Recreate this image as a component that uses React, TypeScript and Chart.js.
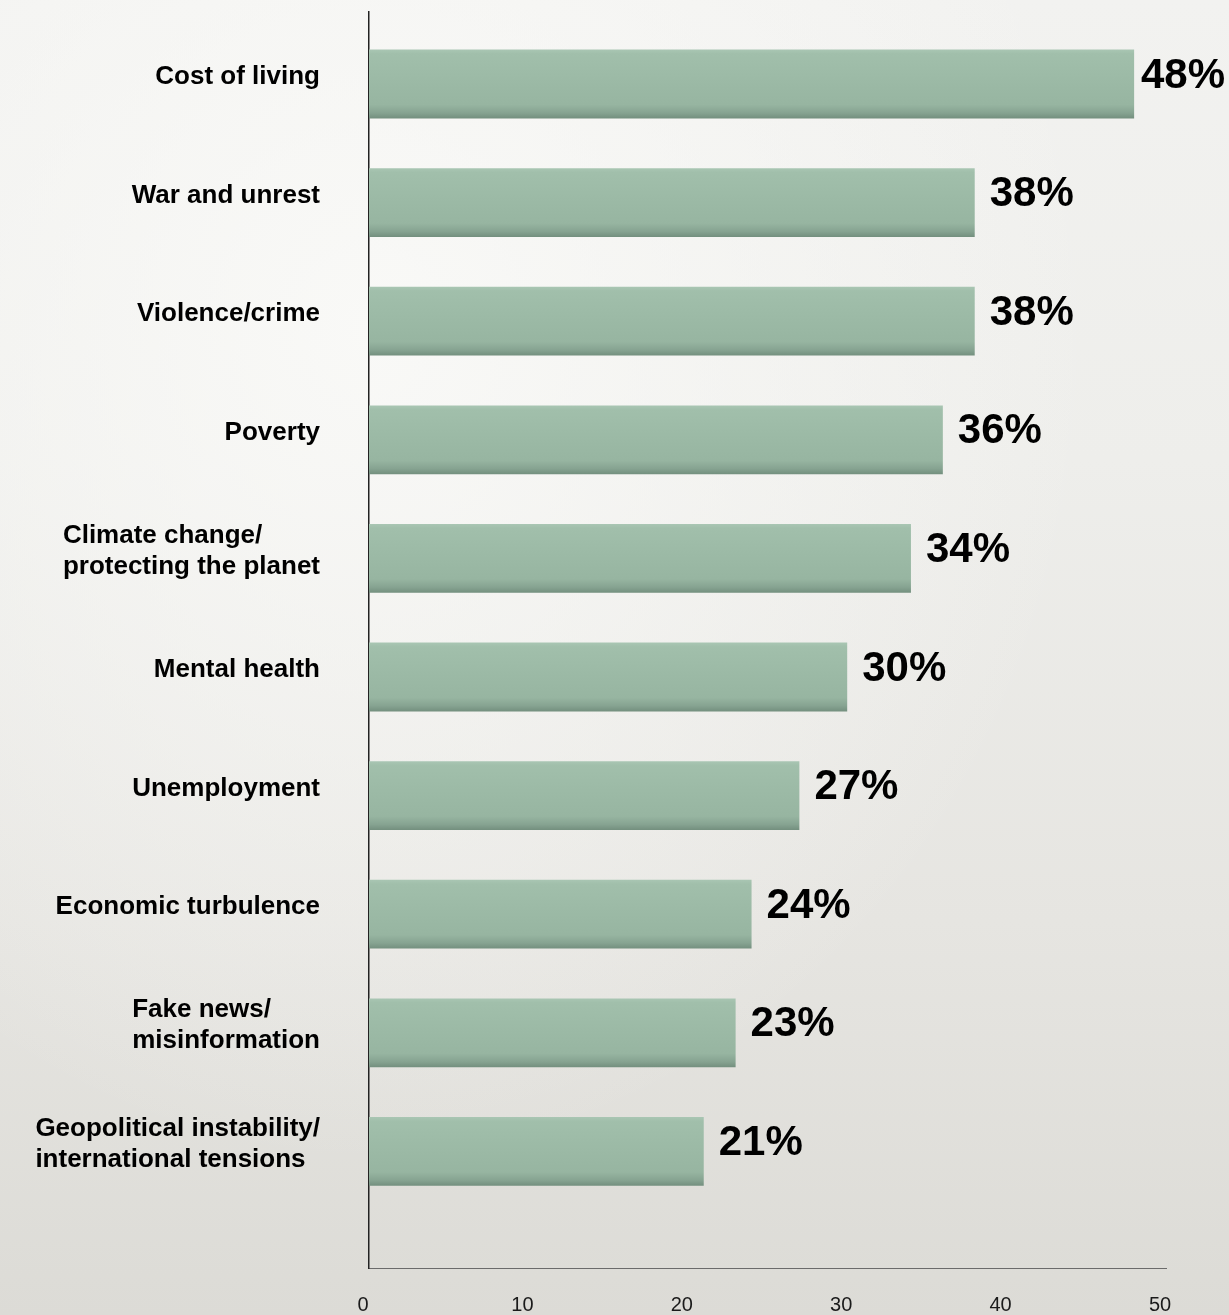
import React, { useEffect, useRef } from "react";
import { Chart, registerables } from "chart.js";

Chart.register(...registerables);

const FONT = '"Liberation Sans", Arial, Helvetica, sans-serif';

const CATEGORIES: string[][] = [
  ["Cost of living"],
  ["War and unrest"],
  ["Violence/crime"],
  ["Poverty"],
  ["Climate change/", "protecting the planet"],
  ["Mental health"],
  ["Unemployment"],
  ["Economic turbulence"],
  ["Fake news/", "misinformation"],
  ["Geopolitical instability/", "international tensions"],
];
const VALUES = [48, 38, 38, 36, 34, 30, 27, 24, 23, 21];
const VALUE_LABELS = ["48%", "38%", "38%", "36%", "34%", "30%", "27%", "24%", "23%", "21%"];
const X_MIN = 0;
const X_MAX = 50;
const X_STEP = 10;

const BAR_PCT = 0.58;

const labelPlugin = {
  id: "customLabels",
  afterDatasetsDraw(chart: any) {
    const { ctx, scales } = chart;
    const x = scales.x;
    const y = scales.y;
    ctx.save();
    ctx.fillStyle = "#000";
    ctx.textAlign = "left";
    ctx.textBaseline = "middle";
    ctx.font = `bold 26px ${FONT}`;
    CATEGORIES.forEach((lines, i) => {
      const yc = y.getPixelForValue(i) - 7;
      const w = Math.max(...lines.map((l) => ctx.measureText(l).width));
      const left = x.left - 49 - w;
      const lh = 31;
      lines.forEach((l, j) => {
        ctx.fillText(l, left, yc + (j - (lines.length - 1) / 2) * lh);
      });
    });
    ctx.font = `bold 42px ${FONT}`;
    VALUES.forEach((v, i) => {
      const t = VALUE_LABELS[i];
      const w = ctx.measureText(t).width;
      let xx = x.getPixelForValue(v) + 15;
      xx = Math.min(xx, chart.width - w - 4);
      ctx.fillText(t, xx, y.getPixelForValue(i) - 8);
    });
    ctx.restore();
  },
};

export default function App() {
  const ref = useRef<HTMLCanvasElement | null>(null);
  useEffect(() => {
    if (!ref.current) return;
    const chart = new Chart(ref.current, {
      type: "bar",
      data: {
        datasets: [
          {
            data: VALUES.map((v, i) => ({ x: v, y: i })),
            barPercentage: BAR_PCT,
            categoryPercentage: 1,
            borderWidth: 0,
            backgroundColor: (c: any) => {
              const ch = c.chart;
              const ys = ch.scales && ch.scales.y;
              if (!ys || c.type !== "data" || c.dataIndex == null) return "#9bb9a5";
              const yc = ys.getPixelForValue(c.dataIndex);
              const h = (Math.abs(ys.getPixelForValue(1) - ys.getPixelForValue(0)) * BAR_PCT) / 2;
              if (!isFinite(yc) || !isFinite(h)) return "#9bb9a5";
              const g = ch.ctx.createLinearGradient(0, yc - h, 0, yc + h);
              g.addColorStop(0, "#a9c6b3");
              g.addColorStop(0.06, "#a1bfab");
              g.addColorStop(0.5, "#9bb9a5");
              g.addColorStop(0.8, "#97b5a1");
              g.addColorStop(0.92, "#86a391");
              g.addColorStop(1, "#738f7e");
              return g;
            },
          } as any,
        ],
      },
      options: {
        indexAxis: "y",
        animation: false,
        responsive: true,
        maintainAspectRatio: false,
        layout: { padding: { left: 369, right: 63, top: 12, bottom: 0 } },
        plugins: { legend: { display: false }, tooltip: { enabled: false } },
        scales: {
          x: {
            type: "linear",
            min: X_MIN,
            max: X_MAX,
            offset: false,
            grid: { display: false, drawTicks: false },
            border: { display: true, color: "#6b6b6b", width: 1 },
            afterFit: (s: any) => {
              s.height = 47;
            },
            ticks: {
              stepSize: X_STEP,
              padding: 27,
              labelOffset: -6,
              color: "#1a1a1a",
              font: { family: FONT, size: 20, lineHeight: 1 },
            },
          },
          y: {
            type: "linear",
            reverse: true,
            offset: false,
            min: -0.607,
            max: 9.983,
            grid: { display: false, drawTicks: false, offset: false },
            border: { display: true, color: "#222", width: 1.5 },
            ticks: { display: false },
            afterBuildTicks: (s: any) => {
              s.ticks = CATEGORIES.map((_, i) => ({ value: i }));
            },
          },
        },
      } as any,
      plugins: [labelPlugin],
    });
    return () => chart.destroy();
  }, []);

  return (
    <div
      style={{
        position: "absolute",
        left: 0,
        top: 0,
        width: 1229,
        height: 1315,
        background:
          "radial-gradient(ellipse at 30% 25%, rgba(250,250,248,0.9) 0%, rgba(250,250,248,0) 60%), linear-gradient(180deg, #f2f2f0 0%, #eeeeeb 35%, #e6e5e1 70%, #dcdbd6 100%)",
      }}
    >
      <canvas ref={ref} />
    </div>
  );
}
